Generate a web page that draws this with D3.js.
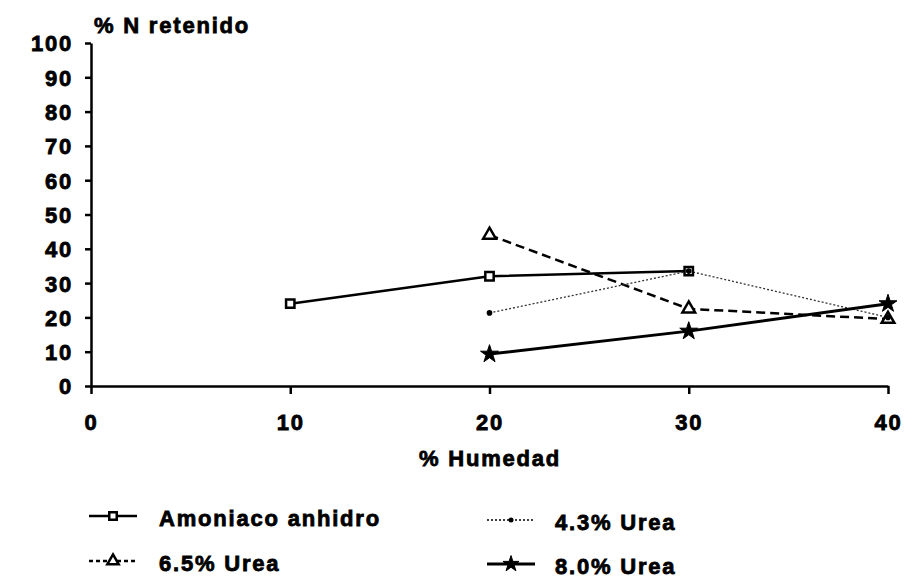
<!DOCTYPE html>
<html>
<head>
<meta charset="utf-8">
<script src="https://cdn.jsdelivr.net/npm/d3@7"></script>
<style>
  body { margin: 0; background: #fff; }
  text { font-family: "Liberation Sans", Arial, sans-serif; font-weight: bold; fill: #000; stroke: #000; stroke-width: 0.8px; letter-spacing: 1.8px; }
</style>
</head>
<body>
<div id="chart"></div>
<script>
// datos
const humedad = [10, 20, 30, 40]
const amoniaco = [24, 32, 33.5, null]
const urea65 = [null, 44, 22.5, 19.5]
const urea43 = [null, 21.3, 33.5, 20]
const urea80 = [null, 9.3, 16, 24]
const yTicks = [0, 10, 20, 30, 40, 50, 60, 70, 80, 90, 100]
const xTicks = [0, 10, 20, 30, 40]

const width = 908
const height = 580

const svg = d3.select('#chart').append('svg')
    .attr('width', width)
    .attr('height', height)
    .attr('viewBox', `0 0 ${width} ${height}`)

const x = d3.scaleLinear().domain([0, 40]).range([91, 888])
const y = d3.scaleLinear().domain([0, 100]).range([386, 43])

// eje y
const yAxis = g => g
    .attr('transform', `translate(${x(0)},0)`)
    .call(d3.axisLeft(y).tickValues(yTicks).tickSize(6).tickPadding(12).tickSizeOuter(0))
    .call(g => g.selectAll('.domain,line').attr('stroke', '#000').attr('stroke-width', 2.5))
    .call(g => g.selectAll('text').attr('font-size', 22).attr('dy', '0.36em'))
    .attr('font-family', null)

// eje x
const xAxis = g => g
    .attr('transform', `translate(0,${y(0)})`)
    .call(d3.axisBottom(x).tickValues(xTicks).tickSize(8).tickPadding(20).tickSizeOuter(0))
    .call(g => g.selectAll('.domain,line').attr('stroke', '#000').attr('stroke-width', 2.5))
    .call(g => g.selectAll('text').attr('font-size', 22))
    .attr('font-family', null)

svg.append('g').call(yAxis)
svg.append('g').call(xAxis)

svg.append('text')
    .attr('x', 94).attr('y', 33)
    .attr('font-size', 22)
    .text('% N retenido')

svg.append('text')
    .attr('x', 490).attr('y', 466)
    .attr('text-anchor', 'middle')
    .attr('font-size', 22)
    .text('% Humedad')

const series = [
    {name: 'Amoniaco anhidro', values: amoniaco, dash: null, sw: 2.5, sym: d3.symbolSquare, size: 70, fill: '#fff', symStroke: 2.5},
    {name: '6.5% Urea', values: urea65, dash: '9,5', sw: 2.5, sym: d3.symbolTriangle, size: 70, fill: '#fff', symStroke: 2.5},
    {name: '4.3% Urea', values: urea43, dash: '2,2', sw: 1.3, sym: d3.symbolCircle, size: 25, fill: '#000', symStroke: 0},
    {name: '8.0% Urea', values: urea80, dash: null, sw: 3, sym: d3.symbolStar, size: 100, fill: '#000', symStroke: 1}
]

const line = d3.line()
    .defined(d => d[1] != null)
    .x(d => x(d[0]))
    .y(d => y(d[1]))

series.forEach(s => {
    const pts = humedad.map((h, i) => [h, s.values[i]])
    svg.append('path')
        .attr('fill', 'none')
        .attr('stroke', s.name === '4.3% Urea' ? '#333' : '#000')
        .attr('stroke-width', s.sw)
        .attr('stroke-dasharray', s.dash)
        .attr('d', line(pts))
})

series.forEach(s => {
    const pts = humedad.map((h, i) => [h, s.values[i]]).filter(d => d[1] != null)
    svg.append('g').selectAll('path')
        .data(pts)
        .join('path')
        .attr('transform', d => `translate(${x(d[0])},${y(d[1])})`)
        .attr('d', d3.symbol().type(s.sym).size(s.size))
        .attr('fill', s.fill)
        .attr('stroke', '#000')
        .attr('stroke-width', s.symStroke)
})

// leyenda
const legendPos = [[89, 516], [89, 561], [487, 520], [487, 564]]
series.forEach((s, i) => {
    const [lx, ly] = legendPos[i]
    const g = svg.append('g').attr('transform', `translate(${lx},${ly})`)
    g.append('line')
        .attr('x1', 0).attr('x2', 48)
        .attr('stroke', '#000')
        .attr('stroke-width', s.sw)
        .attr('stroke-dasharray', s.dash ? (s.dash === '2,2' ? '2,2' : '4,3') : null)
    g.append('path')
        .attr('transform', 'translate(24,0)')
        .attr('d', d3.symbol().type(s.sym).size(s.size * 0.8))
        .attr('fill', s.fill)
        .attr('stroke', '#000')
        .attr('stroke-width', s.symStroke)
    g.append('text')
        .attr('x', i < 2 ? 70 : 68)
        .attr('y', 10)
        .attr('font-size', 22)
        .text(s.name)
})
</script>
</body>
</html>
